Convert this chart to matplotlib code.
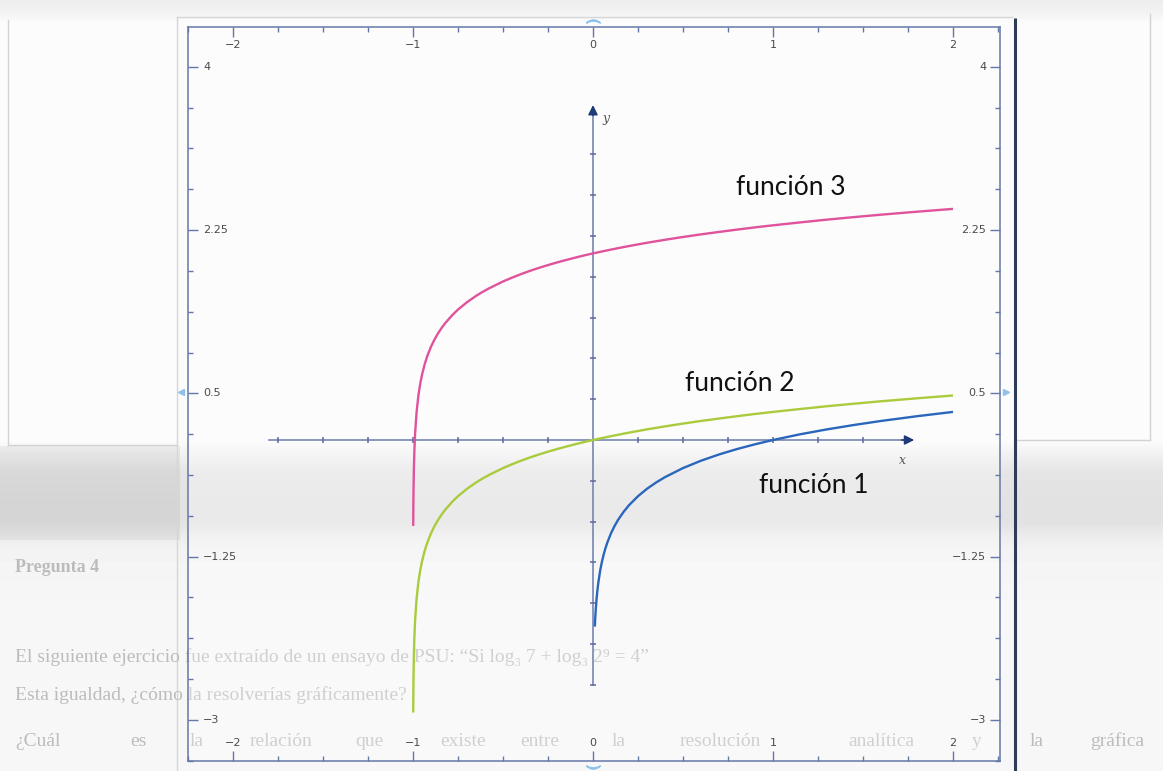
import numpy as np
import matplotlib
matplotlib.use("Agg")
import matplotlib.pyplot as plt
from matplotlib.ticker import FixedLocator

# ---------------------------------------------------------------- data
x_ticks = [-2, -1, 0, 1, 2]
x_tick_labels = ["\u22122", "\u22121", "0", "1", "2"]
y_ticks = [4, 2.25, 0.5, -1.25, -3]
y_tick_labels = ["4", "2.25", "0.5", "\u22121.25", "\u22123"]

# función 1
f1_x = [0.010, 0.012, 0.015, 0.020, 0.025, 0.030, 0.040, 0.050, 0.060, 0.070, 0.080,
        0.100, 0.120, 0.140, 0.170, 0.200, 0.250, 0.300, 0.350, 0.400, 0.500, 0.600,
        0.700, 0.800, 0.900, 1.000, 1.150, 1.300, 1.450, 1.600, 1.800, 2.000]
f1_y = [-2.000, -1.921, -1.824, -1.699, -1.602, -1.523, -1.398, -1.301, -1.222, -1.155, -1.097,
        -1.000, -0.921, -0.854, -0.770, -0.699, -0.602, -0.523, -0.456, -0.398, -0.301, -0.222,
        -0.155, -0.097, -0.046, 0.000, 0.061, 0.114, 0.161, 0.204, 0.255, 0.301]

# función 2
f2_x = [-0.9988, -0.998, -0.997, -0.995, -0.992, -0.988, -0.98, -0.97, -0.96, -0.95,
        -0.935, -0.92, -0.90, -0.88, -0.86, -0.84, -0.82, -0.78, -0.75, -0.70,
        -0.65, -0.62, -0.58, -0.50, -0.45, -0.40, -0.35, -0.30, -0.25, -0.20,
        -0.15, -0.10, -0.05, 0.00, 0.10, 0.20, 0.30, 0.40, 0.50, 0.60,
        0.70, 0.80, 0.90, 1.00, 1.15, 1.30, 1.45, 1.60, 1.80, 2.00]
f2_y = [-2.921, -2.699, -2.523, -2.301, -2.097, -1.921, -1.699, -1.523, -1.398, -1.301,
        -1.187, -1.097, -1.000, -0.921, -0.854, -0.796, -0.745, -0.658, -0.602, -0.523,
        -0.456, -0.420, -0.377, -0.301, -0.260, -0.222, -0.187, -0.155, -0.125, -0.097,
        -0.071, -0.046, -0.022, 0.000, 0.041, 0.079, 0.114, 0.146, 0.176, 0.204,
        0.230, 0.255, 0.279, 0.301, 0.332, 0.362, 0.389, 0.415, 0.447, 0.477]

# función 3
f3_x = [-0.9988, -0.998, -0.997, -0.995, -0.992, -0.988, -0.98, -0.97, -0.96, -0.95,
        -0.935, -0.92, -0.90, -0.88, -0.86, -0.84, -0.82, -0.78, -0.75, -0.70,
        -0.65, -0.62, -0.58, -0.50, -0.45, -0.40, -0.35, -0.30, -0.25, -0.20,
        -0.15, -0.10, -0.05, 0.00, 0.10, 0.20, 0.30, 0.40, 0.50, 0.60,
        0.70, 0.80, 0.90, 1.00, 1.15, 1.30, 1.45, 1.60, 1.80, 2.00]
f3_y = [-0.921, -0.699, -0.523, -0.301, -0.097, 0.079, 0.301, 0.477, 0.602, 0.699,
        0.813, 0.903, 1.000, 1.079, 1.146, 1.204, 1.255, 1.342, 1.398, 1.477,
        1.544, 1.580, 1.623, 1.699, 1.740, 1.778, 1.813, 1.845, 1.875, 1.903,
        1.929, 1.954, 1.978, 2.000, 2.041, 2.079, 2.114, 2.146, 2.176, 2.204,
        2.230, 2.255, 2.279, 2.301, 2.332, 2.362, 2.389, 2.415, 2.447, 2.477]

curve_names = ["función 1", "función 2", "función 3"]
curve_colors = ["#2a66bb", "#a9cb3c", "#e0529c"]

# ---------------------------------------------------------------- figure
W, H = 1163, 771
fig = plt.figure(figsize=(W / 100, H / 100), dpi=100)
fig.patch.set_facecolor("white")

# page background (scanned sheet with a fold shadow)
bg = fig.add_axes([0, 0, 1, 1], zorder=0)
bg.set_xlim(0, W)
bg.set_ylim(H, 0)
bg.axis("off")
rows = np.arange(H)
prof = np.interp(rows,
                 [0, 12, 22, 440, 452, 470, 500, 522, 536, 552, 600, 771],
                 [0.93, 0.95, 0.985, 0.985, 0.95, 0.90, 0.885, 0.885, 0.925, 0.955, 0.965, 0.965])
img = np.tile(prof[:, None], (1, W))
band = (rows > 445) & (rows < 540)
img[np.ix_(band, np.arange(W) < 180)] -= 0.05
bg.imshow(img, cmap="gray", vmin=0, vmax=1, extent=[0, W, H, 0], aspect="auto",
          interpolation="bilinear")

edge = "#d2d2d2"
bg.plot([8, 8], [20, 445], color=edge, lw=1)
bg.plot([8, 177], [445, 445], color=edge, lw=1)
bg.plot([1150, 1150], [14, 440], color=edge, lw=1)
bg.plot([1017, 1150], [440, 440], color=edge, lw=1)
bg.plot([177, 177], [17, 771], color="#d6d6d6", lw=1)
bg.plot([177, 1012], [17, 17], color="#d6d6d6", lw=1)
bg.plot([1015, 1015], [18, 771], color="#2e3d57", lw=2.2, solid_capstyle="butt")

# faint text bleeding through from the page
faint = "#bcbcbc"
serif = ["Liberation Serif", "DejaVu Serif"]
bg.text(15, 567, "Pregunta 4", fontsize=13, fontweight="bold", color=faint,
        family=serif, va="center")
bg.text(15, 657, "El siguiente ejercicio fue extraído de un ensayo de PSU: "
        "\u201cSi log\u2083 7 + log\u2083 2\u2079 = 4\u201d",
        fontsize=14, color=faint, family=serif, va="center")
bg.text(15, 695, "Esta igualdad, ¿cómo la resolverías gráficamente?",
        fontsize=14, color=faint, family=serif, va="center")
for word, px in zip(["¿Cuál", "es", "la", "relación", "que", "existe", "entre", "la",
                     "resolución", "analítica", "y", "la", "gráfica"],
                    [15, 130, 190, 250, 355, 440, 520, 612, 680, 848, 972, 1030, 1090]):
    bg.text(px, 741, word, fontsize=14, color=faint, family=serif, va="center")

# small light-blue handles around the frame
handle = "#8fc2ea"
bg.plot([181], [392], marker="<", ms=5, color=handle, ls="none")
bg.plot([1006], [392], marker=">", ms=5, color=handle, ls="none")
bg.plot([593], [21], marker=r"$\frown$", ms=10, color=handle, ls="none")
bg.plot([593], [767], marker=r"$\smile$", ms=10, color=handle, ls="none")

# ---------------------------------------------------------------- plot frame
frame = "#6577a8"
ax = fig.add_axes([188 / W, 1 - 761 / H, (1000 - 188) / W, (761 - 27) / H], zorder=2)
ax.set_facecolor((1, 1, 1, 0.3))
ax.set_xlim((188 - 593) / 180, (1000 - 593) / 180)
ax.set_ylim((440 - 761) / 93.3, (440 - 27) / 93.3)
for s in ax.spines.values():
    s.set_color(frame)
    s.set_linewidth(1.1)

ax.xaxis.set_major_locator(FixedLocator(x_ticks))
ax.xaxis.set_minor_locator(FixedLocator(np.arange(-2.25, 2.26, 0.25)))
ax.yaxis.set_major_locator(FixedLocator(y_ticks))
ax.yaxis.set_minor_locator(FixedLocator(np.arange(-3.4375, 4.45, 0.4375)))
ax.tick_params(which="both", direction="in", top=True, right=True, color=frame,
               labelbottom=False, labelleft=False, width=1.0)
ax.tick_params(which="major", length=7)
ax.tick_params(which="minor", length=3.5)

lab_kw = dict(fontsize=8, color="#4a4a4a", family="DejaVu Sans")
for xv, t in zip(x_ticks, x_tick_labels):
    ax.annotate(t, xy=(xv, 1), xycoords=("data", "axes fraction"), xytext=(0, -13),
                textcoords="offset points", ha="center", va="center", **lab_kw)
    ax.annotate(t, xy=(xv, 0), xycoords=("data", "axes fraction"), xytext=(0, 13),
                textcoords="offset points", ha="center", va="center", **lab_kw)
for yv, t in zip(y_ticks, y_tick_labels):
    ax.annotate(t, xy=(0, yv), xycoords=("axes fraction", "data"), xytext=(11, 0),
                textcoords="offset points", ha="left", va="center", **lab_kw)
    ax.annotate(t, xy=(1, yv), xycoords=("axes fraction", "data"), xytext=(-10, 0),
                textcoords="offset points", ha="right", va="center", **lab_kw)

# inner coordinate axes with arrows
axis_c = "#7585b5"
head_c = "#1f3a78"
ax.plot([-1.8, 1.72], [0, 0], color=axis_c, lw=1.2, zorder=2)
ax.plot([0, 0], [-2.625, 3.5], color=axis_c, lw=1.2, zorder=2)
ax.annotate("", xy=(1.80, 0), xytext=(1.70, 0),
            arrowprops=dict(arrowstyle="-|>", color=head_c, lw=1.2, mutation_scale=14))
ax.annotate("", xy=(0, 3.62), xytext=(0, 3.45),
            arrowprops=dict(arrowstyle="-|>", color=head_c, lw=1.2, mutation_scale=14))
xt = [v for v in np.arange(-1.75, 1.76, 0.25) if abs(v) > 1e-9]
yt = [v for v in np.arange(-2.625, 3.51, 0.4375) if abs(v) > 1e-9]
ax.plot(xt, np.zeros(len(xt)), ls="none", marker="|", ms=4, mew=1.1, color="#5a6a9a", zorder=2)
ax.plot(np.zeros(len(yt)), yt, ls="none", marker="_", ms=4, mew=1.1, color="#5a6a9a", zorder=2)
ax.text((902 - 593) / 180, (440 - 460) / 93.3, "x", fontsize=9, style="italic",
        family="DejaVu Serif", color="#555555", ha="center", va="center")
ax.text((606 - 593) / 180, (440 - 118) / 93.3, "y", fontsize=9, style="italic",
        family="DejaVu Serif", color="#555555", ha="center", va="center")

# the three curves
for xs, ys, c in zip([f1_x, f2_x, f3_x], [f1_y, f2_y, f3_y], curve_colors):
    ax.plot(xs, ys, color=c, lw=1.7, solid_capstyle="butt", zorder=3)

# curve names
name_pos = [((814 - 593) / 180, (440 - 485) / 93.3),
            ((740 - 593) / 180, (440 - 383) / 93.3),
            ((791 - 593) / 180, (440 - 187) / 93.3)]
for name, (tx, ty) in zip(curve_names, name_pos):
    ax.text(tx, ty, name, fontsize=19, family=["Lato", "DejaVu Sans"], color="#111111",
            ha="center", va="center", zorder=4)

fig.savefig("out.png", dpi=100)
